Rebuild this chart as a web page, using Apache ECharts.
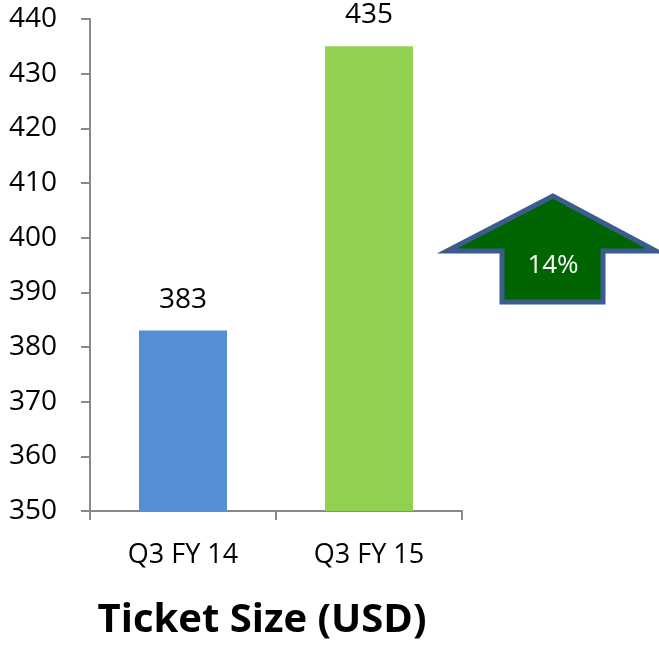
<!DOCTYPE html>
<html>
<head>
<meta charset="utf-8">
<script src="https://cdn.jsdelivr.net/npm/echarts@6/dist/echarts.min.js"></script>
<style>html,body{margin:0;padding:0;background:#fff}#c{width:659px;height:645px}</style>
</head>
<body>
<div id="c"></div>
<script>
const categories = ['Q3 FY 14', 'Q3 FY 15'];
const values = [383, 435];
const barColors = ['#558ED5', '#92D050'];
const yMin = 350, yMax = 440, yStep = 10;
const chartTitle = 'Ticket Size (USD)';

const growth = Math.round((values[1] - values[0]) / values[0] * 100) + '%';
const FONT = '"Open Sans", "Noto Sans", sans-serif';

const chart = echarts.init(document.getElementById('c'));
chart.setOption({
  animation: false,
  grid: { left: 90, right: 197, top: 19, bottom: 134, containLabel: false },
  xAxis: {
    type: 'category',
    data: categories,
    axisLine: { lineStyle: { color: '#898989', width: 2 } },
    axisTick: { show: true, length: 9, lineStyle: { color: '#898989', width: 2 } },
    axisLabel: { color: '#000', fontSize: 27, fontFamily: FONT, margin: 31 }
  },
  yAxis: {
    type: 'value',
    min: yMin, max: yMax, interval: yStep,
    splitLine: { show: false },
    axisLine: { show: true, lineStyle: { color: '#898989', width: 2 } },
    axisTick: { show: true, length: 9, lineStyle: { color: '#898989', width: 2 } },
    axisLabel: { color: '#000', fontSize: 28, fontFamily: FONT, margin: 33 }
  },
  series: [{
    type: 'bar',
    barWidth: 88,
    data: values.map((v, i) => ({ value: v, itemStyle: { color: barColors[i] } })),
    label: { show: true, position: 'top', distance: 17, color: '#000', fontSize: 28, fontFamily: FONT }
  }],
  graphic: [
    {
      type: 'polygon',
      shape: { points: [[553, 196], [447, 251], [502, 251], [502, 302], [603, 302], [603, 251], [656, 251]] },
      style: { fill: '#006400', stroke: '#3B5D8C', lineWidth: 5, lineJoin: 'miter' }
    },
    {
      type: 'text',
      x: 553, y: 266,
      style: { text: growth, fill: '#fff', fontSize: 26, fontFamily: FONT, align: 'center', verticalAlign: 'middle' }
    },
    {
      type: 'text',
      x: 262, y: 621,
      style: { text: chartTitle, fill: '#000', fontSize: 40, fontWeight: 'bold', fontFamily: FONT, align: 'center', verticalAlign: 'middle' }
    }
  ]
});
</script>
</body>
</html>
